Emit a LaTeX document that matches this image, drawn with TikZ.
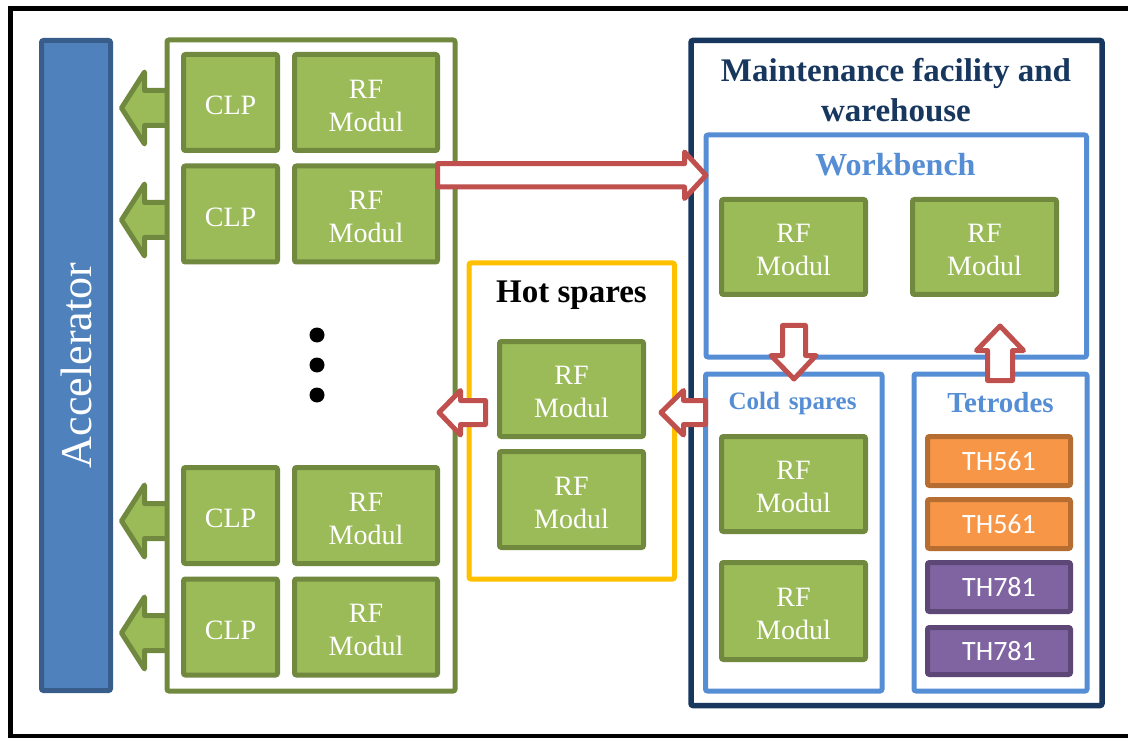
\documentclass[tikz,border=0pt]{standalone}
\usepackage{fontspec}
\setmainfont{Liberation Serif}
\newfontfamily\calib{Carlito}
\definecolor{gfill}{HTML}{9BBB59}
\definecolor{gline}{HTML}{71893F}
\definecolor{afill}{HTML}{4F81BD}
\definecolor{aline}{HTML}{385D8A}
\definecolor{redline}{HTML}{C0504D}
\definecolor{lblue}{HTML}{558ED5}
\definecolor{navy}{HTML}{17375E}
\definecolor{yell}{HTML}{FFC000}
\definecolor{ofill}{HTML}{F79646}
\definecolor{oline}{HTML}{B66D31}
\definecolor{pfill}{HTML}{8064A2}
\definecolor{pline}{HTML}{5C4776}
\newcommand\greenarrow[1]{\draw[garrow] (168,{#1-17.5}) -- (144.5,{#1-17.5}) -- (144.5,{#1-36}) -- (121.5,#1) -- (144.5,{#1+36}) -- (144.5,{#1+17.5}) -- (168,{#1+17.5}) -- cycle;}
\begin{document}
\begin{tikzpicture}[x=1pt,y=-1pt,
  container/.style={draw, fill=white, line width=5, rounded corners=2, inner sep=0},
  gbox/.style={draw=gline, fill=gfill, line width=5, rounded corners=2, text=white, font=\fontsize{28}{33}\selectfont, align=center, inner sep=0},
  clpbox/.style={gbox, minimum width=94, minimum height=96, execute at begin node={\rule{0pt}{25pt}}},
  rfbox/.style={gbox, minimum width=143, minimum height=96, execute at begin node={\rule{0pt}{58pt}}},
  tbox/.style={line width=5, rounded corners=2, text=white, font=\calib\fontsize{28}{32}\selectfont, inner sep=0, minimum width=143, minimum height=49},
  obox/.style={tbox, draw=oline, fill=ofill},
  pbox/.style={tbox, draw=pline, fill=pfill},
  garrow/.style={draw=gline, fill=gfill, line width=5, line join=round},
  rarrow/.style={draw=redline, fill=white, line width=5, line join=round},
  title/.style={anchor=base, font=\bfseries\fontsize{33}{38}\selectfont, inner sep=0}
]
\useasboundingbox (0,0) rectangle (1128,738);
% outer frame
\draw[line width=5] (10,9) rectangle (1140,736.5);
% accelerator
\node[draw=aline, fill=afill, line width=5, rounded corners=2, minimum width=69, minimum height=650, inner sep=0] (acc) at (76,365.5) {};
\node[rotate=90, text=white, font=\fontsize{44}{50}\selectfont, inner sep=0] (acclabel) at (acc.center) {Accelerator};
% green arrows to accelerator
\greenarrow{108}
\greenarrow{220}
\greenarrow{521}
\greenarrow{633}
% module container
\node[container, draw=gline, minimum width=288, minimum height=651] (mods) at (311,365.5) {};
\node[clpbox] (clp1) at (230.5,102.5) {CLP};
\node[rfbox] (rf1) at (366,102.5) {RF\\Modul};
\node[clpbox] (clp2) at (230.5,214) {CLP};
\node[rfbox] (rf2) at (366,214) {RF\\Modul};
\node[clpbox] (clp3) at (230.5,515.5) {CLP};
\node[rfbox] (rf3) at (366,515.5) {RF\\Modul};
\node[clpbox] (clp4) at (230.5,627) {CLP};
\node[rfbox] (rf4) at (366,627) {RF\\Modul};
\fill (317,335) circle (7.5) (317,365) circle (7.5) (317,395) circle (7.5);
% hot spares
\node[container, draw=yell, minimum width=205.5, minimum height=316] (hot) at (571.75,421) {};
\node[title] (hottitle) at (571.5,303) {Hot spares};
\node[rfbox, minimum width=144, minimum height=95] (hot1) at (571.5,389) {RF\\Modul};
\node[rfbox, minimum width=144, minimum height=96] (hot2) at (571.5,499.5) {RF\\Modul};
% maintenance facility
\node[container, draw=navy, line width=5.5, minimum width=411, minimum height=665] (maint) at (896.5,373) {};
\node[title, text=navy] (mtitle) at (896,82) {Maintenance facility and};
\node[title, text=navy] (mtitle2) at (896,122) {warehouse};
\node[container, draw=lblue, minimum width=380.5, minimum height=222] (wb) at (896.25,246) {};
\node[title, text=lblue, font=\bfseries\fontsize{32}{38}\selectfont] (wbtitle) at (895.5,176) {Workbench};
\node[rfbox, minimum width=144, minimum height=95] (wb1) at (793.5,247) {RF\\Modul};
\node[rfbox, minimum width=144, minimum height=95] (wb2) at (984.5,247) {RF\\Modul};
\node[container, draw=lblue, minimum width=176.5, minimum height=317] (cold) at (793.75,532.5) {};
\node[title, text=lblue, font=\bfseries\fontsize{25}{30}\selectfont] (coldtitle) at (792.5,409) {Cold\hspace{9pt}spares};
\node[rfbox, minimum width=144, minimum height=95] (cold1) at (793.5,484) {RF\\Modul};
\node[rfbox, minimum width=144, minimum height=97] (cold2) at (793.5,611) {RF\\Modul};
\node[container, draw=lblue, minimum width=173, minimum height=317] (tet) at (1000.5,532.5) {};
\node[title, text=lblue, font=\bfseries\fontsize{29}{34}\selectfont] (tettitle) at (1000.5,412) {Tetrodes};
\node[obox] (t1) at (999,461) {TH561};
\node[obox] (t2) at (999,524) {TH561};
\node[pbox] (t3) at (999,587) {TH781};
\node[pbox, minimum height=47] (t4) at (999,651) {TH781};
% red block arrows
\draw[rarrow] (437.5,163.7) -- (684.5,163.7) -- (684.5,152) -- (706,175.3) -- (684.5,198.5) -- (684.5,187) -- (437.5,187) -- cycle;
\draw[rarrow] (485.5,400.5) -- (460.5,400.5) -- (460.5,390.5) -- (439,412.5) -- (460.5,435) -- (460.5,424.5) -- (485.5,424.5) -- cycle;
\draw[rarrow] (705.5,400.5) -- (683.5,400.5) -- (683.5,390.5) -- (661,412.5) -- (683.5,435) -- (683.5,424.5) -- (705.5,424.5) -- cycle;
\draw[rarrow] (782.5,325.5) -- (782.5,355.5) -- (771,355.5) -- (794,379) -- (816,355.5) -- (805.5,355.5) -- (805.5,325.5) -- cycle;
\draw[rarrow] (987.5,380.5) -- (987.5,350.5) -- (976.5,350.5) -- (1000,326) -- (1023.5,350.5) -- (1012.5,350.5) -- (1012.5,380.5) -- cycle;
\end{tikzpicture}
\end{document}
